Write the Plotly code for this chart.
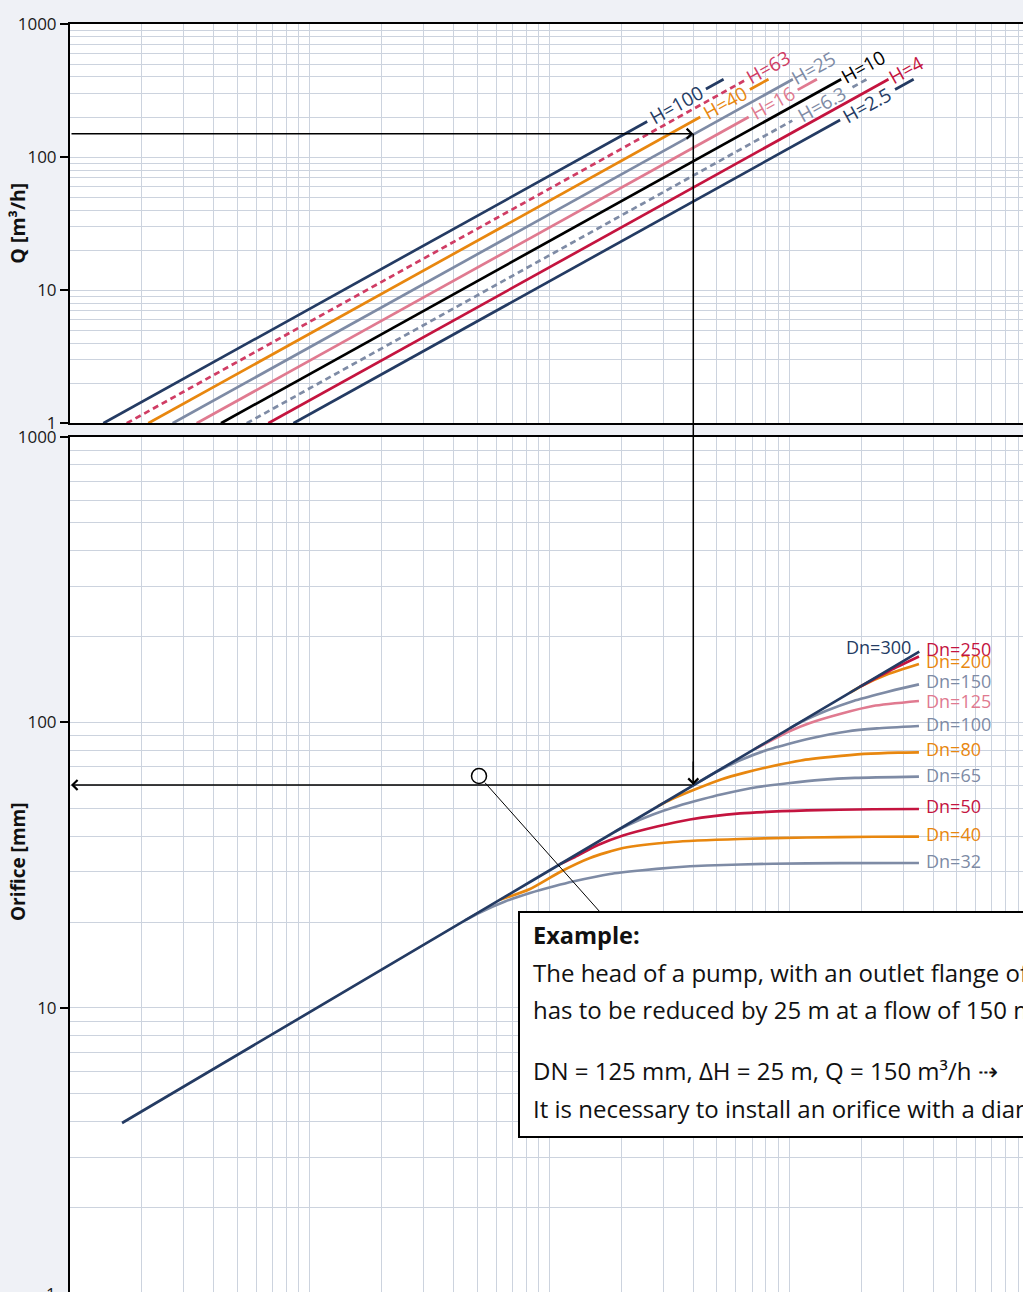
import math
import plotly.graph_objects as go

# ---------------- data ----------------
# Upper panel: flow Q [m3/h] versus abscissa, one straight line per head H [m].
# None marks the break in a line where its label sits.
H_NAMES = ["H=100", "H=63", "H=40", "H=25", "H=16", "H=10", "H=6.3", "H=4", "H=2.5"]
H100_X = [0.692, 128.0, None, 224.9, 266.4]
H100_Q = [1, 185, None, 325, 385]
H63_X = [0.866, 333.4]
H63_Q = [1, 385]
H40_X = [1.065, 213.0, None, 342.9, 410.0]
H40_Q = [1, 200, None, 322, 385]
H25_X = [1.346, 518.2]
H25_Q = [1, 385]
H16_X = [1.695, 339.0, None, 542.4, 652.6]
H16_Q = [1, 200, None, 320, 385]
H10_X = [2.14, 823.9]
H10_Q = [1, 385]
H6_X = [2.74, 515.1, None, 917.9, 1054.9]
H6_Q = [1, 188, None, 335, 385]
H4_X = [3.37, 1297.5]
H4_Q = [1, 385]
H2_X = [4.29, 815.1, None, 1381.4, 1651.7]
H2_Q = [1, 190, None, 322, 385]
H_LABEL_X = [169.5, 411.4, 270.5, 632.6, 428.8, 1016.5, 687.7, 1533.4, 1059.6]
H_LABEL_Q = [245, 475, 254, 470, 253, 475, 251, 455, 247]

# Lower panel: orifice diameter [mm] versus abscissa, one curve per pipe size Dn.
DN_NAMES = ["Dn=32", "Dn=40", "Dn=50", "Dn=65", "Dn=80", "Dn=100",
            "Dn=125", "Dn=150", "Dn=200", "Dn=250", "Dn=300"]
DN32_X = [22.27, 25.72, 32.69, 41.55, 52.83, 62.79, 89.6, 119.4, 163.9, 227.2, 428.0, 814.4, 1737.8]
DN32_D = [20.27, 21.60, 23.60, 25.28, 26.75, 27.74, 29.47, 30.31, 31.05, 31.56, 32.0, 32.15, 32.2]
DN40_X = [31.16, 41.55, 55.42, 73.9, 101.5, 163.9, 311.9, 593.3, 1117.5, 1737.8]
DN40_D = [23.93, 26.11, 29.95, 33.53, 36.34, 38.14, 39.07, 39.55, 39.78, 39.8]
DN50_X = [55.42, 64.0, 79.8, 101.5, 140.6, 192.9, 311.9, 593.3, 1117.5, 1737.8]
DN50_D = [31.9, 33.80, 37.23, 40.20, 43.22, 45.74, 48.02, 49.19, 49.66, 49.77]
DN65_X = [93.96, 106.4, 135.3, 172.0, 218.6, 259.9, 370.7, 494.3, 678.6, 940.5, 1737.8]
DN65_D = [41.45, 43.75, 47.63, 51.01, 53.95, 55.95, 59.44, 61.24, 62.90, 63.92, 64.60]
DN80_X = [141.9, 160.8, 204.4, 259.9, 330.4, 392.6, 560.1, 746.9, 1025.2, 1420.7, 1737.8]
DN80_D = [50.93, 53.74, 58.48, 63.16, 66.87, 69.29, 73.61, 75.72, 77.57, 78.45, 78.63]
DN100_X = [212.4, 250.1, 318.0, 404.1, 513.7, 610.6, 871.0, 1161.4, 1737.8]
DN100_D = [62.20, 67.36, 74.20, 80.11, 84.76, 87.90, 93.00, 95.28, 97.21]
DN125_X = [360.2, 415.9, 504.0, 610.6, 814.4, 1117.5, 1737.8]
DN125_D = [80.81, 86.14, 93.37, 99.59, 107.1, 114.2, 118.9]
DN150_X = [504.0, 565.5, 718.9, 913.8, 1161.4, 1380.4, 1737.8]
DN150_D = [95.50, 100.8, 110.2, 118.5, 125.3, 130.0, 135.9]
DN200_X = [896.4, 1005.8, 1278.8, 1737.8]
DN200_D = [127.2, 134.5, 147.3, 160.3]
DN250_X = [986.7, 1316.1, 1737.8]
DN250_D = [133.4, 152.1, 170.2]
DN300_X = [0.828, 42.9, 1743.0]
DN300_D = [3.955, 28.07, 177.0]

# Worked example: Q = 150 m3/h, H = 25 m  ->  abscissa, orifice diameter
EX_Q = 150
EX_X = 199.2
EX_D = 60.4
POINTER_CIRCLE = (25.47, 64.95)
POINTER_LINE_X = [26.98, 81.35]
POINTER_LINE_D = [61.52, 21.69]

# Tick / grid values
Y_TICKS = [1, 10, 100, 1000]
Y_TICKTEXT = ["1", "10", "100", "1000"]
Y_MINOR = [2, 3, 4, 5, 6, 7, 8, 9, 20, 30, 40, 50, 60, 70, 80, 90,
           200, 300, 400, 500, 600, 700, 800, 900]
X_GRID = [0.5, 1, 1.5, 2, 2.5, 3, 3.5, 4, 4.5, 5,
          10, 15, 20, 25, 30, 35, 40, 45, 50,
          100, 150, 200, 250, 300, 350, 400, 450, 500,
          1000, 1500, 2000, 2500, 3000, 3500, 4000, 4500, 5000]

BOX_LINES = [
    "The head of a pump, with an outlet flange of DN 125 mm,",
    "has to be reduced by 25 m at a flow of 150 m³/h.",
    "DN = 125 mm, ΔH = 25 m, Q = 150 m³/h ⇢",
    "It is necessary to install an orifice with a diameter of 60 mm.",
]

# ---------------- styling ----------------
NAVY = "#243b63"
RED = "#c4143f"
RED_D = "#d03c64"
ORANGE = "#e8870f"
GRAY = "#7e8ba5"
PINK = "#e07a90"
BLACK = "#000000"
GRID = "#ccd3de"
BG = "#eff1f6"
FONT = "Open Sans"
LW = 2.7

W, HGT = 1023, 1292
ML = 70
X_RANGE = [-0.2989, 3.6737]
TOP_DOM = [0.6724, 0.9814]
BOT_DOM = [0.0, 0.6618]

fig = go.Figure()

h_series = [
    (H100_X, H100_Q, NAVY, "solid"),
    (H63_X, H63_Q, RED_D, "6px,4px"),
    (H40_X, H40_Q, ORANGE, "solid"),
    (H25_X, H25_Q, GRAY, "solid"),
    (H16_X, H16_Q, PINK, "solid"),
    (H10_X, H10_Q, BLACK, "solid"),
    (H6_X, H6_Q, GRAY, "6px,4px"),
    (H4_X, H4_Q, RED, "solid"),
    (H2_X, H2_Q, NAVY, "solid"),
]
for name, (xs, qs, col, dash) in zip(H_NAMES, h_series):
    fig.add_trace(go.Scatter(x=xs, y=qs, mode="lines", name=name,
                             line=dict(color=col, width=LW, dash=dash),
                             connectgaps=False, xaxis="x", yaxis="y",
                             hoverinfo="skip"))

dn_series = [
    (DN32_X, DN32_D, GRAY), (DN40_X, DN40_D, ORANGE), (DN50_X, DN50_D, RED),
    (DN65_X, DN65_D, GRAY), (DN80_X, DN80_D, ORANGE), (DN100_X, DN100_D, GRAY),
    (DN125_X, DN125_D, PINK), (DN150_X, DN150_D, GRAY), (DN200_X, DN200_D, ORANGE),
    (DN250_X, DN250_D, RED), (DN300_X, DN300_D, NAVY),
]
for name, (xs, ds, col) in zip(DN_NAMES, dn_series):
    fig.add_trace(go.Scatter(x=xs, y=ds, mode="lines", name=name,
                             line=dict(color=col, width=LW, shape="spline", smoothing=0.6),
                             xaxis="x2", yaxis="y2", hoverinfo="skip"))

# example guide lines (vertical part)
fig.add_trace(go.Scatter(x=[EX_X, EX_X], y=[EX_Q, 1], mode="lines",
                         line=dict(color=BLACK, width=1.5), xaxis="x", yaxis="y", hoverinfo="skip"))
fig.add_trace(go.Scatter(x=[EX_X, EX_X], y=[1000, EX_D], mode="lines",
                         line=dict(color=BLACK, width=1.5), xaxis="x2", yaxis="y2", hoverinfo="skip"))
# pointer circle + leader line
fig.add_trace(go.Scatter(x=POINTER_LINE_X, y=POINTER_LINE_D, mode="lines",
                         line=dict(color=BLACK, width=1), xaxis="x2", yaxis="y2", hoverinfo="skip"))
fig.add_trace(go.Scatter(x=[POINTER_CIRCLE[0]], y=[POINTER_CIRCLE[1]], mode="markers",
                         marker=dict(symbol="circle-open", size=15, color=BLACK, line=dict(width=1.5)),
                         xaxis="x2", yaxis="y2", hoverinfo="skip"))

annotations = []
# H labels on the lines
h_cols = [c for (_, _, c, _) in h_series]
for name, xv, qv, col in zip(H_NAMES, H_LABEL_X, H_LABEL_Q, h_cols):
    annotations.append(dict(x=math.log10(xv), y=math.log10(qv), xref="x", yref="y",
                            text=name, showarrow=False, textangle=-29,
                            xanchor="center", yanchor="middle",
                            font=dict(family=FONT, size=19, color=col)))
# Dn labels at curve ends
dn_shift = [2, 3, 3, 2, 3, 2, 0, 3, 3, 8, 5]
for i, (name, (xs, ds, col)) in enumerate(zip(DN_NAMES, dn_series)):
    if name == "Dn=300":
        annotations.append(dict(x=math.log10(xs[-1]), y=math.log10(ds[-1]), xref="x2", yref="y2",
                                text=name, showarrow=False, xanchor="right", yanchor="middle",
                                xshift=-6, yshift=dn_shift[i],
                                font=dict(family=FONT, size=18, color=col)))
    else:
        annotations.append(dict(x=math.log10(xs[-1]), y=math.log10(ds[-1]), xref="x2", yref="y2",
                                text=name, showarrow=False, xanchor="left", yanchor="middle",
                                xshift=5, yshift=dn_shift[i],
                                font=dict(family=FONT, size=18, color=col)))

# example arrows
annotations.append(dict(x=math.log10(EX_X), y=math.log10(EX_Q), xref="x", yref="y",
                        ax=X_RANGE[0], ay=math.log10(EX_Q), axref="x", ayref="y",
                        text="", showarrow=True, arrowhead=4, arrowsize=1.3,
                        arrowwidth=1.5, arrowcolor=BLACK))
annotations.append(dict(x=X_RANGE[0] + 0.004, y=math.log10(EX_D), xref="x2", yref="y2",
                        ax=math.log10(EX_X), ay=math.log10(EX_D), axref="x2", ayref="y2",
                        text="", showarrow=True, arrowhead=4, arrowsize=1.3,
                        arrowwidth=1.5, arrowcolor=BLACK))
annotations.append(dict(x=math.log10(EX_X), y=math.log10(EX_D), xref="x2", yref="y2",
                        ax=0, ay=-25, text="", showarrow=True, arrowhead=4, arrowsize=1.3,
                        arrowwidth=1.5, arrowcolor=BLACK))

# axis titles
annotations.append(dict(x=(18 - ML) / (W - ML), y=(TOP_DOM[0] + TOP_DOM[1]) / 2, xref="paper", yref="paper",
                        text="<b>Q [m³/h]</b>", textangle=-90, showarrow=False,
                        xanchor="center", yanchor="middle", font=dict(family=FONT, size=19.5, color="#111")))
annotations.append(dict(x=(18 - ML) / (W - ML), y=0.3328, xref="paper", yref="paper",
                        text="<b>Orifice [mm]</b>", textangle=-90, showarrow=False,
                        xanchor="center", yanchor="middle", font=dict(family=FONT, size=19, color="#111")))
# partially visible "1" at the very bottom of the lower axis
annotations.append(dict(x=(58 - ML) / (W - ML), y=-0.0012, xref="paper", yref="paper",
                        text="1", showarrow=False, xanchor="right", yanchor="middle",
                        font=dict(family=FONT, size=17, color="#1a1a1a")))

# example box text
bx = (531 - ML) / (W - ML)
annotations.append(dict(x=bx, y=(HGT - 935) / HGT, xref="paper", yref="paper", text="<b>Example:</b>",
                        showarrow=False, xanchor="left", yanchor="middle",
                        font=dict(family=FONT, size=23.5, color="#111")))
for txt, ypx in zip(BOX_LINES, [972, 1009, 1070, 1108]):
    annotations.append(dict(x=bx, y=(HGT - ypx) / HGT, xref="paper", yref="paper", text=txt,
                            showarrow=False, xanchor="left", yanchor="middle",
                            font=dict(family=FONT, size=24, color="#111")))

shapes = [
    # vertical example line crossing the gap between the panels
    dict(type="line", xref="x", yref="paper", x0=EX_X, x1=EX_X,
         y0=BOT_DOM[1], y1=TOP_DOM[0], line=dict(color=BLACK, width=1.5)),
    # example box
    dict(type="rect", xref="paper", yref="paper",
         x0=(519 - ML) / (W - ML), x1=1.1, y0=(HGT - 1137) / HGT, y1=(HGT - 912) / HGT,
         fillcolor="white", line=dict(color=BLACK, width=2), layer="above"),
]

common_x = dict(type="log", range=X_RANGE, tickmode="array", tickvals=X_GRID,
                showticklabels=False, ticks="", showgrid=True, gridcolor=GRID, gridwidth=1,
                showline=True, linecolor=BLACK, linewidth=2, zeroline=False, automargin=False)
common_y = dict(type="log", tickmode="array", tickvals=Y_TICKS, ticktext=Y_TICKTEXT,
                ticks="outside", ticklen=8, tickwidth=1.5, tickcolor=BLACK,
                showgrid=True, gridcolor=GRID, gridwidth=1,
                minor=dict(tickmode="array", tickvals=Y_MINOR, showgrid=True,
                           gridcolor=GRID, gridwidth=1, ticks=""),
                showline=True, linecolor=BLACK, linewidth=2, zeroline=False, automargin=False,
                tickfont=dict(family=FONT, size=17, color="#1a1a1a"))

fig.update_layout(
    width=W, height=HGT, autosize=False,
    margin=dict(l=ML, r=0, t=0, b=0, pad=0, autoexpand=False),
    paper_bgcolor=BG, plot_bgcolor="white",
    showlegend=False,
    font=dict(family=FONT, color="#1a1a1a"),
    xaxis=dict(common_x, domain=[0, 1], anchor="y", mirror=True),
    yaxis=dict(common_y, domain=TOP_DOM, range=[0, 3], anchor="x"),
    xaxis2=dict(common_x, domain=[0, 1], anchor="y2", side="top", mirror=False, matches="x"),
    yaxis2=dict(common_y, domain=BOT_DOM, range=[0.00525, 3], anchor="x2"),
    annotations=annotations,
    shapes=shapes,
)

# pin the figure to the page's top-left corner (no body margin / scrollbars)
PAGE_FIX = (
    "document.documentElement.style.margin='0';"
    "document.documentElement.style.overflow='hidden';"
    "document.body.style.margin='0';document.body.style.padding='0';"
    "document.body.style.overflow='hidden';"
    "var gd=document.getElementById('{plot_id}');"
    "gd.style.position='absolute';gd.style.left='0px';gd.style.top='0px';"
)

fig.write_html("out.html", post_script=PAGE_FIX, config={"displayModeBar": False})
